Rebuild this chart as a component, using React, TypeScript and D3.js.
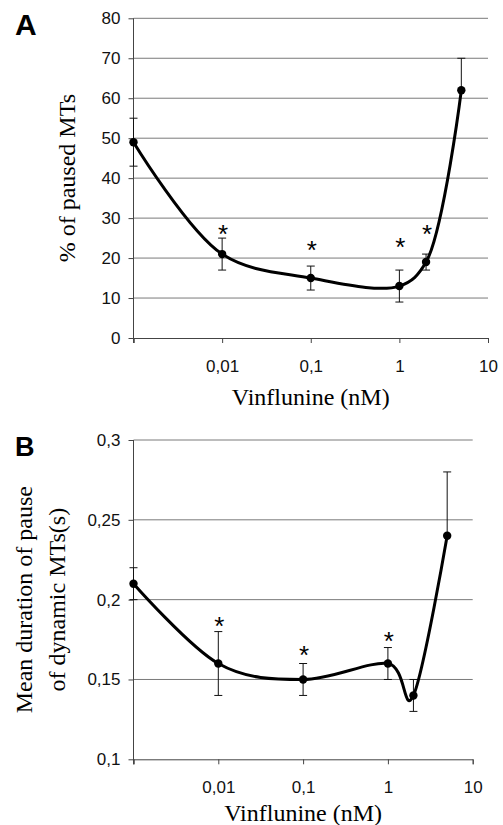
import React, { useRef, useEffect } from 'react';
import * as d3 from 'd3';

// Vinflunine concentrations (nM), shared by both panels
const concentrations = [0.001, 0.01, 0.1, 1, 2, 5];

// Panel A: % of paused MTs
const pausedPercent = [49, 21, 15, 13, 19, 62];
const pausedErrUp = [6, 4, 3, 4, 2, 8];
const pausedErrDown = [6, 4, 3, 4, 2, 0];
const pausedStars = [null, 27.5, 23.5, 24.2, 27.5, null];
const pausedTicks = [0, 10, 20, 30, 40, 50, 60, 70, 80];

// Panel B: mean duration of pause (s)
const pauseDuration = [0.21, 0.16, 0.15, 0.16, 0.14, 0.24];
const durationErrUp = [0.01, 0.02, 0.01, 0.01, 0.01, 0.04];
const durationErrDown = [0.01, 0.02, 0.01, 0.01, 0.01, 0];
const durationStars = [null, 0.1875, 0.169, 0.1777, null, null];
const durationTicks = [0.1, 0.15, 0.2, 0.25, 0.3];

const xTicks = [0.001, 0.01, 0.1, 1, 10];
const xTickLabels = ['', '0,01', '0,1', '1', '10'];

const SANS = "'Liberation Sans', Arial, sans-serif";
const SERIF = "'Liberation Serif', 'Times New Roman', serif";

type PanelOpts = {
    letter: string;
    letterSize: number;
    letterY: number;
    left: number;
    right: number;
    top: number;
    bottom: number;
    values: number[];
    errUp: number[];
    errDown: number[];
    stars: (number | null)[];
    yTicks: number[];
    titleLines: string[];
    titleX: number[];
    xTitleY: number;
    curve: d3.CurveFactory;
};

function drawPanel(svg: d3.Selection<SVGSVGElement, unknown, null, undefined>, o: PanelOpts) {
    const x = d3.scaleLog().domain([0.001, 10]).range([o.left, o.right]);
    const y = d3.scaleLinear()
        .domain([o.yTicks[0], o.yTicks[o.yTicks.length - 1]])
        .range([o.bottom, o.top]);

    const g = svg.append('g');

    // gridlines
    g.selectAll('.grid')
        .data(o.yTicks.slice(1))
        .enter()
        .append('line')
        .attr('x1', o.left)
        .attr('x2', o.right)
        .attr('y1', (d) => y(d))
        .attr('y2', (d) => y(d))
        .attr('stroke', '#7a7a7a')
        .attr('stroke-width', 1);

    // y axis
    const yAxis = g.append('g')
        .attr('transform', `translate(${o.left},0)`)
        .call(d3.axisLeft(y)
            .tickValues(o.yTicks)
            .tickSize(5)
            .tickPadding(8)
            .tickFormat((d) => String(d).replace('.', ',')));
    yAxis.select('.domain').attr('stroke', '#444').attr('d', `M0,${o.top}V${o.bottom + 5}`);

    // x axis
    const xAxis = g.append('g')
        .attr('transform', `translate(0,${o.bottom})`)
        .call(d3.axisBottom(x)
            .tickValues(xTicks)
            .tickSize(5)
            .tickPadding(17)
            .tickFormat((d, i) => xTickLabels[i]));
    xAxis.select('.domain').attr('stroke', '#444');

    [yAxis, xAxis].forEach((ax) => {
        ax.attr('font-family', null).attr('font-size', null);
        ax.selectAll('line').attr('stroke', '#444');
        ax.selectAll('text')
            .style('font-family', SANS)
            .style('font-size', '17px')
            .attr('fill', '#111');
    });

    // error bars (a zero-length side gets no cap)
    const bars = g.selectAll('.err')
        .data(concentrations)
        .enter()
        .append('g');
    bars.append('line')
        .attr('x1', (d) => x(d))
        .attr('x2', (d) => x(d))
        .attr('y1', (d, i) => y(o.values[i] + o.errUp[i]))
        .attr('y2', (d, i) => y(o.values[i] - o.errDown[i]))
        .attr('stroke', '#111');
    bars.filter((d, i) => o.errUp[i] > 0)
        .append('line')
        .attr('x1', (d) => x(d) - 4)
        .attr('x2', (d) => x(d) + 4)
        .attr('y1', (d) => y(o.values[concentrations.indexOf(d)] + o.errUp[concentrations.indexOf(d)]))
        .attr('y2', (d) => y(o.values[concentrations.indexOf(d)] + o.errUp[concentrations.indexOf(d)]))
        .attr('stroke', '#111');
    bars.filter((d, i) => o.errDown[i] > 0)
        .append('line')
        .attr('x1', (d) => x(d) - 4)
        .attr('x2', (d) => x(d) + 4)
        .attr('y1', (d) => y(o.values[concentrations.indexOf(d)] - o.errDown[concentrations.indexOf(d)]))
        .attr('y2', (d) => y(o.values[concentrations.indexOf(d)] - o.errDown[concentrations.indexOf(d)]))
        .attr('stroke', '#111');

    // smoothed line
    const line = d3.line<number>()
        .x((d) => x(d))
        .y((d, i) => y(o.values[i]))
        .curve(o.curve);
    g.append('path')
        .datum(concentrations)
        .attr('d', line)
        .attr('fill', 'none')
        .attr('stroke', '#000')
        .attr('stroke-width', 3);

    g.selectAll('.pt')
        .data(concentrations)
        .enter()
        .append('circle')
        .attr('cx', (d) => x(d))
        .attr('cy', (d, i) => y(o.values[i]))
        .attr('r', 4.2)
        .attr('fill', '#000');

    // significance stars
    g.selectAll('.star')
        .data(concentrations.filter((d, i) => o.stars[i] !== null))
        .enter()
        .append('text')
        .attr('x', (d) => x(d) + 1)
        .attr('y', (d) => y(o.stars[concentrations.indexOf(d)] as number) + 15)
        .attr('text-anchor', 'middle')
        .style('font-family', SANS)
        .style('font-size', '26px')
        .text('*');

    // panel letter
    g.append('text')
        .attr('x', 15)
        .attr('y', o.letterY)
        .style('font-family', SANS)
        .style('font-weight', 'bold')
        .style('font-size', `${o.letterSize}px`)
        .text(o.letter);

    // y title
    const cy = (o.top + o.bottom) / 2;
    o.titleLines.forEach((t, i) => {
        g.append('text')
            .attr('transform', `translate(${o.titleX[i]},${cy}) rotate(-90)`)
            .attr('text-anchor', 'middle')
            .style('font-family', SERIF)
            .style('font-size', '24px')
            .text(t);
    });

    // x title
    g.append('text')
        .attr('x', (o.left + o.right) / 2)
        .attr('y', o.xTitleY)
        .attr('text-anchor', 'middle')
        .style('font-family', SERIF)
        .style('font-size', '24px')
        .text('Vinflunine (nM)');
}

function App() {
    const ref = useRef<SVGSVGElement>(null);

    useEffect(() => {
        const svg = d3.select(ref.current as SVGSVGElement);
        svg.selectAll('*').remove();

        drawPanel(svg, {
            letter: 'A', letterSize: 30, letterY: 35,
            left: 133.5, right: 488, top: 18.3, bottom: 338,
            values: pausedPercent, errUp: pausedErrUp, errDown: pausedErrDown, stars: pausedStars,
            yTicks: pausedTicks,
            titleLines: ['% of paused MTs'], titleX: [75],
            xTitleY: 405,
            curve: d3.curveCatmullRom.alpha(0.5),
        });

        drawPanel(svg, {
            letter: 'B', letterSize: 27, letterY: 456,
            left: 133.5, right: 472.7, top: 440, bottom: 759.3,
            values: pauseDuration, errUp: durationErrUp, errDown: durationErrDown, stars: durationStars,
            yTicks: durationTicks,
            titleLines: ['Mean duration of pause', 'of dynamic MTs(s)'], titleX: [32, 65],
            xTitleY: 821,
            curve: d3.curveCardinal.tension(0),
        });
    }, []);

    return (
        <svg ref={ref} width={503} height={825}
            style={{ position: 'absolute', left: 0, top: 0, background: '#fff' }} />
    );
}

export default App;
